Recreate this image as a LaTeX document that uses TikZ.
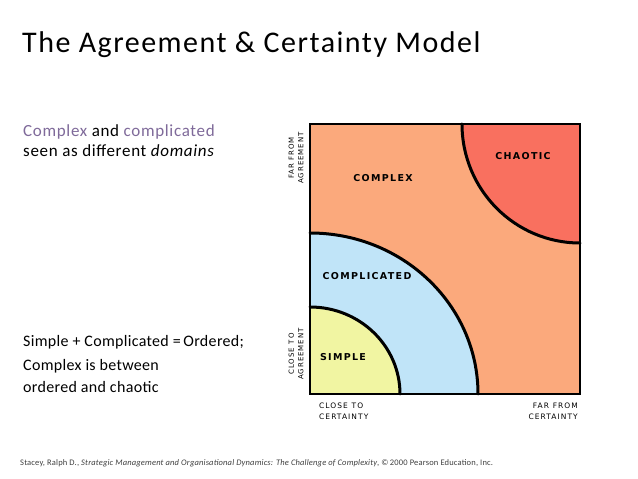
\documentclass[tikz,border=0pt]{standalone}
\usepackage{fontspec}
\setmainfont{Carlito}
\newfontfamily\titlefont[LetterSpace=5]{Carlito}
\newfontfamily\upfont[LetterSpace=4]{Carlito}
\newfontfamily\lowfont[LetterSpace=2]{Carlito}
\newfontfamily\citefont[LetterSpace=2]{Carlito}
\newfontfamily\handfont[LetterSpace=14]{DejaVu Sans}
\begin{document}
\begin{tikzpicture}[x=1pt,y=1pt,
  txt/.style={inner sep=0pt,anchor=base west,align=left},
  zone/.style={font=\handfont\bfseries\fontsize{9.5}{11}\selectfont,inner sep=0pt},
  axis/.style={font=\handfont\fontsize{7}{9.5}\selectfont,inner sep=0pt},
  edge/.style={line width=3pt,line cap=round}]
\definecolor{purp}{HTML}{7F6A9A}
\definecolor{orng}{HTML}{FBA97C}
\definecolor{chao}{HTML}{F9705F}
\definecolor{blu}{HTML}{C0E4F8}
\definecolor{yel}{HTML}{F1F5A2}
\useasboundingbox (0,0) rectangle (638,479);
\fill[white] (0,0) rectangle (638,479);
% title and texts
\node[txt,font=\titlefont\fontsize{30}{34}\selectfont] (title) at (22,426) {The Agreement \& Certainty Model};
\node[txt,font=\upfont\fontsize{17}{20}\selectfont] (t1) at (23,342) {\textcolor{purp}{Complex} and \textcolor{purp}{complicated}};
\node[txt,font=\upfont\fontsize{17}{20}\selectfont] (t2) at (23,322) {seen as different \textit{domains}};
\node[txt,font=\lowfont\fontsize{16}{20}\selectfont] (t3) at (23,132) {Simple + Complicated =\,Ordered;};
\node[txt,font=\lowfont\fontsize{16}{20}\selectfont] (t4) at (23,108) {Complex is between};
\node[txt,font=\lowfont\fontsize{16}{20}\selectfont] (t5) at (23,86) {ordered and chaotic};
\node[txt,font=\citefont\fontsize{8.5}{10}\selectfont,text=black!75] (cite) at (20,13) {Stacey, Ralph D., \textit{Strategic Management and Organisational Dynamics: The Challenge of Complexity}, \textcopyright\,2000 Pearson Education, Inc.};
% diagram
\fill[orng] (310,85) rectangle (580,355);
\fill[chao] (462,355) arc[start angle=180,end angle=270,x radius=118,y radius=119] -- (580,355) -- cycle;
\fill[blu] (310,246) arc[start angle=90,end angle=0,x radius=168,y radius=161] -- (310,85) -- cycle;
\fill[yel] (310,172) arc[start angle=90,end angle=0,x radius=90,y radius=87] -- (310,85) -- cycle;
\draw[edge] (462,355) arc[start angle=180,end angle=270,x radius=118,y radius=119];
\draw[edge] (310,246) arc[start angle=90,end angle=0,x radius=168,y radius=161];
\draw[edge] (310,172) arc[start angle=90,end angle=0,x radius=90,y radius=87];
\draw[line width=2pt] (310,85) rectangle (580,355);
\node[zone] (complex) at (383,301) {COMPLEX};
\node[zone] (chaotic) at (523,323) {CHAOTIC};
\node[zone] (complicated) at (367,203) {COMPLICATED};
\node[zone] (simple) at (343,122) {SIMPLE};
\node[axis,rotate=90,align=center] (farag) at (296,321) {FAR\enspace FROM\\AGREEMENT};
\node[axis,rotate=90,align=center] (closeag) at (296,125) {CLOSE\enspace TO\\AGREEMENT};
\node[axis,font=\handfont\fontsize{7.5}{11}\selectfont,anchor=north west,align=left] (closece) at (319,76) {CLOSE\enspace TO\\CERTAINTY};
\node[axis,font=\handfont\fontsize{7.5}{11}\selectfont,anchor=north east,align=right] (farce) at (578,76) {FAR\enspace FROM\\CERTAINTY};
\end{tikzpicture}
\end{document}
